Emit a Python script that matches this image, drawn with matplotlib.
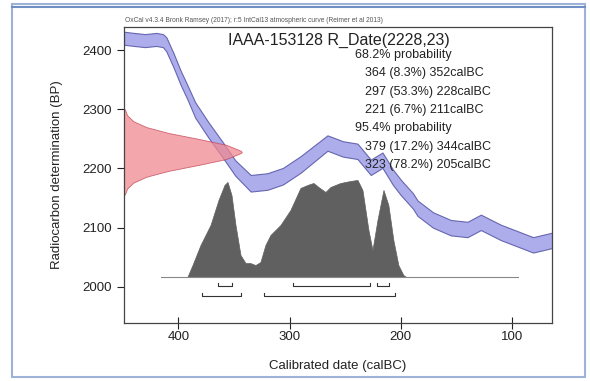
import matplotlib
matplotlib.use("Agg")
import matplotlib.pyplot as plt
import numpy as np
from matplotlib.patches import Rectangle

plt.rcParams['font.family'] = ['Liberation Sans', 'DejaVu Sans']

# calibration curve (IntCal13)
curve_cal = [449, 440, 430, 420, 414, 411, 404.5, 398, 392, 385, 373, 360, 349, 335,
             320, 306, 290, 266, 252, 239, 227, 216.5, 207, 200, 189, 185, 171, 155,
             140, 128, 110, 92, 81, 63]
curve_bp = [2420, 2418, 2416, 2418, 2416, 2410, 2383, 2353, 2329, 2299, 2265, 2231, 2201, 2175,
            2178, 2187, 2207, 2243, 2233, 2229, 2202, 2214, 2185, 2168, 2145, 2133, 2113, 2100,
            2097, 2109, 2092, 2079, 2071, 2079]
curve_err = [11, 11, 11, 11, 11, 12, 12, 12, 12, 13, 13, 13, 13, 14,
             14, 14, 14, 13, 13, 13, 13, 13, 13, 13, 13, 13, 13, 13,
             13, 13, 13, 13, 13, 13]

# measured date R_Date(2228,23): BP values and drawn width (years)
date_bp = [2300, 2290, 2280, 2270, 2260, 2250, 2240, 2230, 2228, 2226, 2216, 2206,
           2196, 2186, 2176, 2166, 2156]
date_w = [0.8, 2.8, 8.3, 20, 40, 67, 92, 105, 106, 105, 92, 67, 40, 20, 8.3, 2.8, 0.8]

# calibrated probability distribution (relative heights)
post_cal = [392, 387.4, 380.2, 371.2, 364, 358.6, 355.9, 352.3, 348.7, 344.2, 339.7, 335.3,
            330.8, 326.3, 321.8, 317.3, 312.8, 308.3, 299.3, 290.3, 284, 278.6, 274.1, 267.8,
            263.3, 254.3, 245.3, 239, 234.5, 229.1, 225.5, 221, 215.6, 211.2, 206.7, 202.2,
            197.7, 195]
post_h = [0, 12, 32, 52, 77, 92, 95, 82, 52, 22, 14, 14, 12, 15, 32, 42, 47, 52, 67, 89,
          92, 94, 90, 85, 90, 94, 96, 97, 87, 47, 27, 57, 87, 72, 37, 12, 2, 0]

ranges68 = [(364, 352), (297, 228), (221, 211)]
ranges95 = [(379, 344), (323, 205)]

fig = plt.figure(figsize=(5.9, 3.81), dpi=100)
W, H = 590, 381

# frame round the picture
fig.patches.append(Rectangle((12 / W, 4 / H), 573 / W, 373 / H, transform=fig.transFigure,
                             fill=False, edgecolor='#9db2d6', linewidth=1.5))
fig.lines.append(plt.Line2D([12 / W, 585 / W], [1 - 7 / H, 1 - 7 / H], transform=fig.transFigure,
                            color='#6f8fc4', linewidth=1.5))

ax = fig.add_axes([124 / W, 1 - 323 / H, 428 / W, 296 / H])
ax.set_xlim(449, 64)
ax.set_ylim(1939, 2439)

base = 2016.6
scale = 164 / 97.0
ph = base + np.array(post_h) * scale
ax.plot([416, 95], [base, base], color='#888888', linewidth=0.8)
ax.fill_between(post_cal, base, ph, facecolor='#606060', edgecolor='#606060', linewidth=0.5)

cb = np.array(curve_bp)
ce = np.array(curve_err)
ax.fill_between(curve_cal, cb - ce, cb + ce, facecolor='#a4a4ea', edgecolor='#5a5aa8',
                linewidth=0.8, alpha=0.9)

xl = ax.get_xlim()[0]
ax.fill_betweenx(date_bp, xl, xl - np.array(date_w), facecolor='#f08890', edgecolor='#c04050',
                 linewidth=0.6, alpha=0.75)

for rs, yb in [(ranges68, 2001.4), (ranges95, 1984.5)]:
    for a, b in rs:
        ax.plot([a, a, b, b], [yb + 5, yb, yb, yb + 5], color='#333333', linewidth=0.8)

ax.set_xticks([400, 300, 200, 100])
ax.set_yticks([2000, 2100, 2200, 2300, 2400])
ax.tick_params(axis='x', direction='inout', length=8, labelsize=9.5, colors='#222222', pad=2)
ax.tick_params(axis='y', direction='out', length=5, labelsize=9.5, colors='#222222')
for s in ax.spines.values():
    s.set_color('#444444')
    s.set_linewidth(0.9)

ax.set_xlabel('Calibrated date (calBC)', fontsize=9.5, color='#222222', labelpad=12)
ax.set_ylabel('Radiocarbon determination (BP)', fontsize=9.5, color='#222222', labelpad=14)

fig.text(125 / W, 1 - 20 / H,
         'OxCal v4.3.4 Bronk Ramsey (2017); r:5 IntCal13 atmospheric curve (Reimer et al 2013)',
         fontsize=4.8, color='#555555', va='center')
fig.text(339 / W, 1 - 40 / H, 'IAAA-153128 R_Date(2228,23)', fontsize=11.5, ha='center',
         va='center', color='#222222')
lines = [('68.2% probability', 355), ('364 (8.3%) 352calBC', 365), ('297 (53.3%) 228calBC', 365),
         ('221 (6.7%) 211calBC', 365), ('95.4% probability', 355),
         ('379 (17.2%) 344calBC', 365), ('323 (78.2%) 205calBC', 365)]
for i, (t, x) in enumerate(lines):
    fig.text(x / W, 1 - (55 + i * 18.3) / H, t, fontsize=9, va='center', color='#222222')

fig.savefig('out.png', dpi=100)
